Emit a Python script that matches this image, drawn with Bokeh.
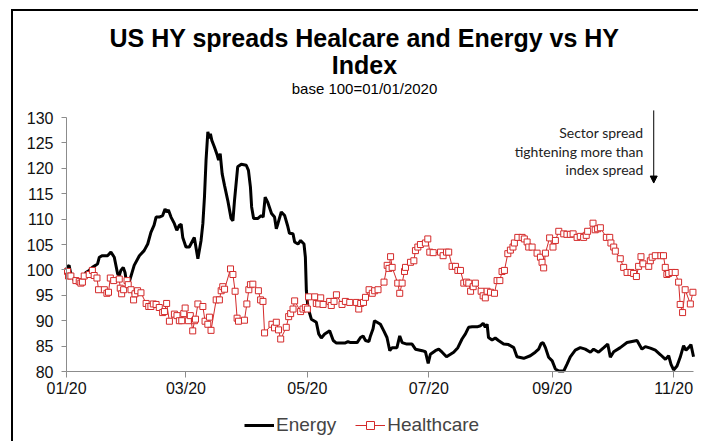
import pandas as pd
from bokeh.plotting import figure
from bokeh.models import (FixedTicker, DatetimeTickFormatter, Range1d, Label, Legend,
                          LegendItem, Arrow, NormalHead)
from bokeh.embed import file_html
from bokeh.resources import INLINE

BASE = "2020-01-01"

energy_days = [0, 1.3, 2, 3.9, 6.4, 8, 9.7, 11.4, 13, 14.6, 15.6, 16.5, 18, 20.6, 22.3, 24, 25.7, 26.5,
               27.3, 28.5, 29.4, 30.4, 31.5, 34, 36.6, 39, 40.8, 42.4, 44, 45, 46.6, 48.3, 49.5, 50.3,
               51.2, 52.5, 54.2, 55.4, 56.7, 57.6, 58.4, 60, 61.7, 63.4, 64.2, 65, 66, 67.6, 68.5,
               69.3, 70.1, 71, 71.8, 72.3, 73, 74.3, 75.7, 76.4, 77.2, 78.2, 79.4, 81, 82.7, 83.6,
               84.4, 86, 87.8, 90.3, 91.4, 92.4, 93, 94, 96, 97.8, 98.8, 99.8, 101, 103, 104.5, 105.4,
               106.2, 107.9, 109.6, 111, 112, 113.8, 114.6, 116.3, 117.6, 119.3, 120, 120.5, 121.3,
               123, 125.5, 126.7, 128, 129.7, 132.2, 134, 135.6, 139.8, 141.4, 142.7, 146, 147.7,
               149, 150.2, 151.9, 152.7, 154, 154.7, 156, 157.7, 159.4, 161, 162.4, 163.6, 166,
               167.4, 168.6, 171, 173.6, 175.3, 178.7, 180.3, 181.7, 182.8, 185.3, 187, 188.7,
               190.9, 192.9, 194.5, 196.6, 198.7, 200.4, 202, 203.8, 206.3, 208, 209.3, 210.4,
               211.3, 212, 213.8, 215.4, 217, 219.6, 222, 224.7, 226.3, 229.7, 233, 235.5, 237.2,
               238.4, 239.4, 240.6, 242.2, 244, 245.6, 247.3, 249.8, 251.4, 253.1, 255.6, 258.1,
               260.6, 263.2, 264.8, 267.3, 269.9, 271.9, 273.2, 274.9, 278.2, 281.6, 284.1, 286.6,
               289.1, 290.8, 293.3, 295.8, 298.4, 300.9, 302.5, 303.7, 305, 306.7, 308.3, 310,
               311.2, 312.5, 313.7, 315]
energy_vals = [100.3, 100.9, 99.5, 97.9, 97.2, 97.4, 99.5, 99.9, 100.5, 100.9, 101.2, 102.5, 102.8,
               102.8, 103.5, 102.5, 99.2, 98.9, 99.9, 100.5, 99.5, 96.9, 97.6, 100.9, 102.8, 103.8,
               105.1, 107.4, 108.8, 110.4, 110.4, 110.7, 112.0, 111.4, 111.8, 110.4, 109.1, 107.8,
               108.8, 109.0, 106.4, 104.5, 104.5, 105.8, 106.4, 104.5, 102.2, 105.8, 109.1, 114.3,
               121.6, 127.2, 125.9, 126.8, 125.5, 124.2, 122.6, 121.6, 122.9, 118.9, 116.6, 113.7,
               110.1, 109.7, 113.7, 120.3, 120.8, 120.6, 119.6, 116.3, 112.4, 110.1, 110.1, 110.7,
               110.4, 114.3, 113.4, 111.1, 110.4, 108.1, 109.1, 111.4, 110.7, 108.8, 107.2, 107.1,
               105.5, 105.1, 105.8, 105.1, 102.5, 95.9, 92.6, 90.3, 89.7, 87.4, 86.6, 87.4, 88.0,
               86.1, 85.6, 85.6, 85.9, 85.7, 85.7, 86.7, 87.0, 86.1, 85.9, 87.0, 88.4, 90.0, 89.7,
               89.3, 88.0, 86.7, 84.1, 84.7, 84.7, 87.0, 85.7, 85.4, 85.4, 84.4, 84.1, 83.9, 81.6,
               83.4, 84.1, 84.4, 83.8, 82.9, 83.4, 83.8, 84.7, 86.4, 87.4, 88.7, 88.8, 88.8, 89.0,
               89.5, 88.7, 89.3, 86.7, 86.2, 86.6, 86.1, 85.4, 85.3, 84.7, 82.9, 82.6, 83.1, 83.8,
               84.4, 85.5, 85.7, 84.7, 82.8, 82.1, 80.5, 80.1, 80.1, 81.4, 82.9, 84.2, 84.7, 84.4,
               83.8, 84.4, 83.8, 84.7, 85.4, 82.8, 83.9, 84.7, 85.7, 85.9, 86.1, 84.4, 84.9, 84.6,
               84.2, 83.3, 82.4, 83.1, 81.4, 80.3, 81.1, 82.8, 85.1, 84.2, 84.7, 85.3, 82.9]

health_days = [0.5, 1, 2.2, 4.7, 6.4, 7.2, 8, 8.9, 11.4, 13, 13.9, 15.3, 16.1, 19, 20.3, 21.1, 22,
               23.7, 26.5, 27, 27.7, 28.7, 30.4, 31, 32.4, 33.7, 34.4, 35.7, 37.4, 40, 41.3, 42.4,
               43.6, 45, 46.6, 48.3, 49.2, 50.3, 51.7, 54.2, 55.5, 56.7, 57.9, 58.9, 59.6, 61.2,
               62.2, 63.4, 64.3, 64.8, 66, 68.5, 69.6, 71, 71.8, 72.6, 75.2, 76.8, 77.7, 78.5, 79.4,
               82.4, 83.6, 84.7, 85.7, 86.4, 89.4, 90.6, 91.6, 92.4, 93.6, 96.4, 97.5, 98.7, 99.5,
               103.2, 104.5, 105.4, 106.5, 107.6, 110.4, 111.6, 112.6, 113.8, 114.6, 117.6, 118.8,
               120, 121, 121.6, 124.7, 125.5, 126.7, 127.7, 128.9, 132.2, 133, 134.4, 135.6, 138.4,
               140.1, 142.3, 145.6, 146.8, 147.8, 149.2, 150.2, 152, 153.6, 154.8, 156.5, 159.5,
               161.1, 162, 162.8, 163.6, 166.4, 167.4, 168.6, 169.8, 170.3, 172.8, 174.5, 175.3,
               176.5, 177.8, 180.3, 181.5, 182.5, 184.2, 187.9, 189.2, 190.9, 192, 193.7, 195.4,
               196.6, 197.9, 199.6, 201, 202.1, 203, 204.3, 205.4, 208.3, 209.3, 210.4, 211.3, 213,
               215, 216.3, 217.7, 218.8, 220, 221.7, 223, 224.3, 225, 226.7, 228.9, 230, 231.4,
               232.2, 233.9, 236.4, 238.1, 238.9, 239.7, 240.6, 242.7, 244.4, 245.6, 247.3, 249.8,
               251.4, 253.1, 254.5, 256.5, 258.1, 259.8, 261.1, 261.8, 264.5, 265.6, 266.8, 268.2,
               271.2, 272.9, 273.5, 274.9, 275.7, 278.2, 279.9, 281.6, 283.6, 284.9, 286.3, 287.4,
               288.6, 289.6, 292.5, 293.3, 294.2, 295.8, 298.6, 299.9, 300.8, 301.6, 302.5, 304.2,
               305.8, 307.5, 308.3, 309.5, 310.8, 313.4, 314.7]
health_vals = [99.7, 98.8, 98.8, 97.9, 97.7, 97.4, 97.6, 98.8, 99.1, 99.9, 98.9, 98.4, 96.1, 96.1,
               95.4, 95.6, 98.4, 97.9, 98.2, 96.4, 95.3, 96.1, 97.9, 97.1, 96.1, 94.1, 95.3, 95.9,
               95.5, 93.4, 92.8, 92.8, 93.3, 93.2, 92.6, 91.6, 91.8, 93.4, 89.9, 91.3, 91.0, 90.0,
               90.0, 91.4, 92.5, 90.0, 91.0, 88.0, 90.0, 90.3, 93.3, 92.8, 89.9, 89.3, 90.7, 88.1,
               94.1, 94.1, 95.9, 96.7, 96.2, 100.2, 99.1, 95.8, 90.5, 89.9, 90.1, 93.3, 96.1, 97.1,
               97.2, 95.9, 94.1, 93.8, 87.6, 89.3, 88.6, 89.7, 88.2, 86.4, 88.7, 90.8, 91.4, 92.3,
               93.9, 91.8, 92.3, 92.6, 92.3, 94.7, 94.7, 93.4, 93.3, 94.5, 93.2, 93.8, 93.0, 93.8,
               95.1, 93.2, 93.8, 93.6, 93.6, 92.3, 93.4, 93.6, 94.6, 96.1, 95.4, 95.9, 96.1, 97.6,
               100.9, 100.3, 102.6, 100.5, 97.4, 95.4, 97.4, 99.7, 100.5, 101.5, 101.8, 103.8,
               104.5, 105.0, 105.3, 106.1, 103.5, 103.4, 103.5, 102.8, 103.5, 103.5, 100.7, 100.7,
               99.9, 99.9, 97.4, 97.6, 97.4, 95.8, 96.7, 97.4, 95.8, 94.9, 94.5, 95.8, 95.6, 95.4,
               97.9, 97.9, 99.7, 99.9, 103.2, 103.9, 104.5, 105.3, 106.4, 106.4, 106.1, 105.5,
               104.5, 104.5, 103.3, 102.5, 101.5, 100.4, 103.3, 106.3, 104.5, 105.8, 107.6, 107.1,
               107.0, 107.0, 107.1, 106.4, 106.6, 106.4, 106.8, 107.6, 109.2, 107.9, 108.1, 108.3,
               106.4, 106.4, 105.3, 104.5, 103.7, 102.2, 100.5, 99.5, 99.5, 99.3, 98.7, 100.7,
               102.6, 101.2, 100.7, 101.8, 102.5, 102.8, 102.8, 102.8, 100.5, 99.1, 99.3, 99.5,
               99.5, 97.6, 93.2, 91.6, 96.1, 93.3, 95.6]

x_tick_dates = ["2020-01-01", "2020-03-01", "2020-05-01", "2020-07-01", "2020-09-01", "2020-11-01"]
y_ticks = [80, 85, 90, 95, 100, 105, 110, 115, 120, 125, 130]
y_axis_bounds = (80, 130)
x_axis_last_day = 315

title_line1 = "US HY spreads Healcare and Energy vs HY"
title_line2 = "Index"
subtitle = "base 100=01/01/2020"
note_lines = ["Sector spread", "tightening more than", "index spread"]


def to_dt(days):
    return pd.Timestamp(BASE) + pd.to_timedelta(pd.Series(days, dtype=float), unit="D")


def ms_day(d):
    return (pd.Timestamp(BASE) + pd.Timedelta(days=d)).value / 1e6


def ms(ts):
    return pd.Timestamp(ts).value / 1e6


e_x = to_dt(energy_days)
h_x = to_dt(health_days)

# The frame covers the whole canvas; the axes are pinned at y=80 and x=01/01 and bounded.
p = figure(width=687, height=432, output_backend="svg", toolbar_location=None,
           x_axis_type="datetime",
           x_range=Range1d(ms_day(-26.63), ms_day(318.5)),
           y_range=Range1d(65.83, 150.87),
           min_border_left=0, min_border_right=0, min_border_top=0, min_border_bottom=0,
           styles={"position": "absolute", "left": "11px", "top": "9px",
                   "border-left": "2px solid black", "border-top": "2px solid black"})
p.outline_line_color = None
p.grid.visible = False

r_e = p.line(e_x, energy_vals, line_color="black", line_width=3)
r_h = p.line(h_x, health_vals, line_color="#d42a2a", line_width=1)
r_hm = p.scatter(h_x, health_vals, marker="square", size=6, line_color="#d42a2a",
                 fill_color="white", line_width=1)

for ax in (p.xaxis[0], p.yaxis[0]):
    ax.axis_line_color = "#8c8c8c"
    ax.major_tick_line_color = "#8c8c8c"
    ax.minor_tick_line_color = None
    ax.major_tick_in = 0
    ax.major_label_text_font = "Liberation Sans"
    ax.major_label_text_font_size = "16px"
    ax.major_label_text_color = "#111111"

p.xaxis.fixed_location = y_axis_bounds[0]
p.xaxis.bounds = (ms(BASE), ms_day(x_axis_last_day))
p.xaxis.ticker = FixedTicker(ticks=[ms(d) for d in x_tick_dates])
p.xaxis.formatter = DatetimeTickFormatter(days="%m/%y", months="%m/%y", years="%m/%y")
p.xaxis.major_tick_out = 6
p.xaxis.major_label_standoff = 2
p.yaxis.fixed_location = ms(BASE)
p.yaxis.bounds = y_axis_bounds
p.yaxis.ticker = FixedTicker(ticks=y_ticks)
p.yaxis.major_tick_out = 5
p.yaxis.major_label_standoff = 8

title_x = ms_day(149.7)
for txt, yv, size, style in [(title_line1, 145.75, "25px", "bold"), (title_line2, 140.3, "25px", "bold"),
                             (subtitle, 135.71, "15px", "normal")]:
    p.add_layout(Label(x=title_x, y=yv, text=txt,
                       text_align="center", text_baseline="middle", text_font="Liberation Sans",
                       text_font_size=size, text_font_style=style, text_color="black"))

note_x = ms_day(289.8)
for txt, yv in zip(note_lines, [127.1, 123.4, 119.7]):
    p.add_layout(Label(x=note_x, y=yv, text=txt, text_align="right", text_baseline="middle",
                       text_font="Lato", text_font_size="14px", text_color="#222222"))

arr_x = ms_day(295)
p.add_layout(Arrow(x_start=arr_x, y_start=131.4, x_end=arr_x, y_end=117.1, line_width=1,
                   line_color="black",
                   end=NormalHead(size=7, fill_color="black", line_color="black")))

legend = Legend(items=[LegendItem(label="Energy", renderers=[r_e]),
                       LegendItem(label="Healthcare", renderers=[r_h, r_hm])],
                orientation="horizontal", location=(231, 7),
                label_text_font="Liberation Sans", label_text_font_size="19px",
                glyph_width=30, glyph_height=20, label_height=20, label_standoff=2, spacing=19,
                padding=2, margin=0, background_fill_alpha=0, border_line_color=None)
p.add_layout(legend)

open("out.html", "w").write(file_html(p, INLINE))
